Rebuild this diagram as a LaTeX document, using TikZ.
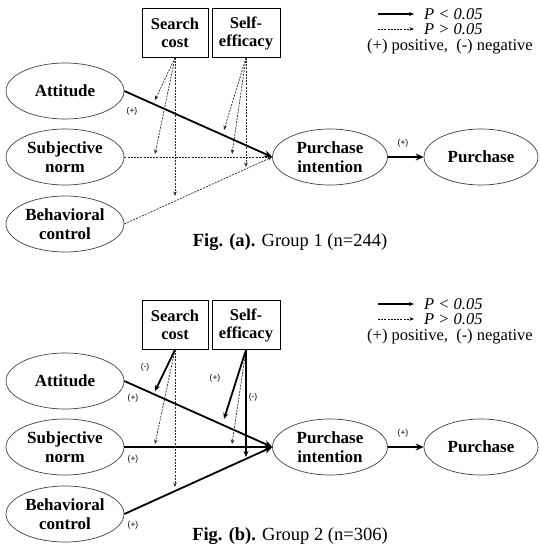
\documentclass[tikz,border=0pt]{standalone}
\usepackage{fontspec}
\setmainfont{Liberation Serif}[BoldFont={* Bold},ItalicFont={* Italic}]
\newfontfamily\lblfont{Liberation Sans}
\usetikzlibrary{arrows.meta,shapes.geometric}
\begin{document}
\begin{tikzpicture}[x=1pt,y=-1pt,
 latent/.style={draw=black!75, line width=0.7pt, ellipse, minimum width=118pt, minimum height=56pt, inner sep=0pt, align=center, font=\fontsize{17}{19}\selectfont\bfseries},
 modbox/.style={draw, line width=0.7pt, rectangle, minimum height=49pt, inner sep=0pt, align=center, font=\fontsize{16.5}{18}\selectfont\bfseries},
 sig/.style={line width=1.8pt, -{Stealth[length=8pt,width=7pt]}},
 nsig/.style={line width=0.7pt, black!85, dash pattern=on 2pt off 1.2pt, -{Stealth[length=4.5pt,width=3.5pt]}},
 sigmod/.style={line width=1.8pt, -{Stealth[length=6pt,width=5pt]}},
 lgsig/.style={line width=1.8pt, -{Stealth[length=5pt,width=4pt]}},
 lgnsig/.style={line width=0.6pt, dash pattern=on 2pt off 1.2pt, -{Stealth[length=4.5pt,width=3.5pt]}},
 lbl/.style={font=\lblfont\fontsize{8.5}{9}\selectfont, inner sep=0pt},
 legtext/.style={anchor=west, inner sep=0pt, font=\fontsize{16.5}{18}\selectfont},
 captext/.style={inner sep=0pt, font=\fontsize{18.5}{20}\selectfont}
]
\useasboundingbox (0,0) rectangle (539,556);

% ================= Panel (a) =================
\node[modbox, minimum width=66pt] (sc1) at (175,33) {Search\\cost};
\node[modbox, minimum width=68pt] (se1) at (246,33) {Self-\\efficacy};
\node[latent] (att1) at (65,91) {Attitude};
\node[latent] (sn1) at (65,157) {Subjective\\norm};
\node[latent] (bc1) at (65,224) {Behavioral\\control};
\node[latent, minimum width=115pt] (pi1) at (330,157) {Purchase\\intention};
\node[latent, minimum width=114pt] (pu1) at (481,157) {Purchase};

\draw[nsig] (sn1.east) -- (pi1.west);
\draw[nsig] (bc1.east) -- (pi1.west);
\draw[sig] (att1.east) -- (pi1.west);
\draw[sig] (pi1.east) -- (pu1.west);

\coordinate (a1) at (155,100);
\coordinate (a2) at (155,154);
\coordinate (a3) at (175,196);
\coordinate (a4) at (224,130);
\coordinate (a5) at (232,154);
\coordinate (a6) at (246,167);
\draw[nsig] (sc1.south) -- (a1);
\draw[nsig] (sc1.south) -- (a2);
\draw[nsig] (sc1.south) -- (a3);
\draw[nsig] (se1.south) -- (a4);
\draw[nsig] (se1.south) -- (a5);
\draw[nsig] (se1.south) -- (a6);

\node[lbl] (la1) at (132,111) {(+)};
\node[lbl] (la2) at (403,143) {(+)};

\coordinate (lg1s) at (378,14);
\node[legtext] (lg1) at (424,14) {\textit{P < 0.05}};
\draw[lgsig] (lg1s) -- ([xshift=-10pt]lg1.west);
\coordinate (lg2s) at (378,29);
\node[legtext] (lg2) at (424,29) {\textit{P > 0.05}};
\draw[lgnsig] (lg2s) -- ([xshift=-10pt]lg2.west);
\node[legtext] (lg3) at (367,47) {(+) positive,\ \ (-) negative};

\node[captext] (cap1) at (290,242) {\textbf{Fig. (a).} Group 1 (n=244)};

% ================= Panel (b) =================
\node[modbox, minimum width=66pt] (sc2) at (175,325) {Search\\cost};
\node[modbox, minimum width=68pt] (se2) at (246,325) {Self-\\efficacy};
\node[latent] (att2) at (65,381) {Attitude};
\node[latent] (sn2) at (65,447) {Subjective\\norm};
\node[latent] (bc2) at (65,514) {Behavioral\\control};
\node[latent, minimum width=115pt] (pi2) at (330,447) {Purchase\\intention};
\node[latent, minimum width=114pt] (pu2) at (481,447) {Purchase};

\draw[sig] (sn2.east) -- (pi2.west);
\draw[sig] (bc2.east) -- (pi2.west);
\draw[sig] (att2.east) -- (pi2.west);
\draw[sig] (pi2.east) -- (pu2.west);

\coordinate (b1) at (155,391);
\coordinate (b2) at (155,444);
\coordinate (b3) at (175,487);
\coordinate (b4) at (224,419);
\coordinate (b5) at (232,444);
\coordinate (b6) at (246,457);
\draw[sigmod] (sc2.south) -- (b1);
\draw[nsig] (sc2.south) -- (b2);
\draw[nsig] (sc2.south) -- (b3);
\draw[sigmod] (se2.south) -- (b4);
\draw[nsig] (se2.south) -- (b5);
\draw[sigmod] (se2.south) -- (b6);

\node[lbl] (lb1) at (145,367) {(-)};
\node[lbl] (lb2) at (133,398) {(+)};
\node[lbl] (lb3) at (133,459) {(+)};
\node[lbl] (lb4) at (133,525) {(+)};
\node[lbl] (lb5) at (215,378) {(+)};
\node[lbl] (lb6) at (253,397) {(-)};
\node[lbl] (lb7) at (403,433) {(+)};

\coordinate (lg4s) at (378,304);
\node[legtext] (lg4) at (424,304) {\textit{P < 0.05}};
\draw[lgsig] (lg4s) -- ([xshift=-10pt]lg4.west);
\coordinate (lg5s) at (378,319);
\node[legtext] (lg5) at (424,319) {\textit{P > 0.05}};
\draw[lgnsig] (lg5s) -- ([xshift=-10pt]lg5.west);
\node[legtext] (lg6) at (367,337) {(+) positive,\ \ (-) negative};

\node[captext] (cap2) at (290,536) {\textbf{Fig. (b).} Group 2 (n=306)};
\end{tikzpicture}
\end{document}
